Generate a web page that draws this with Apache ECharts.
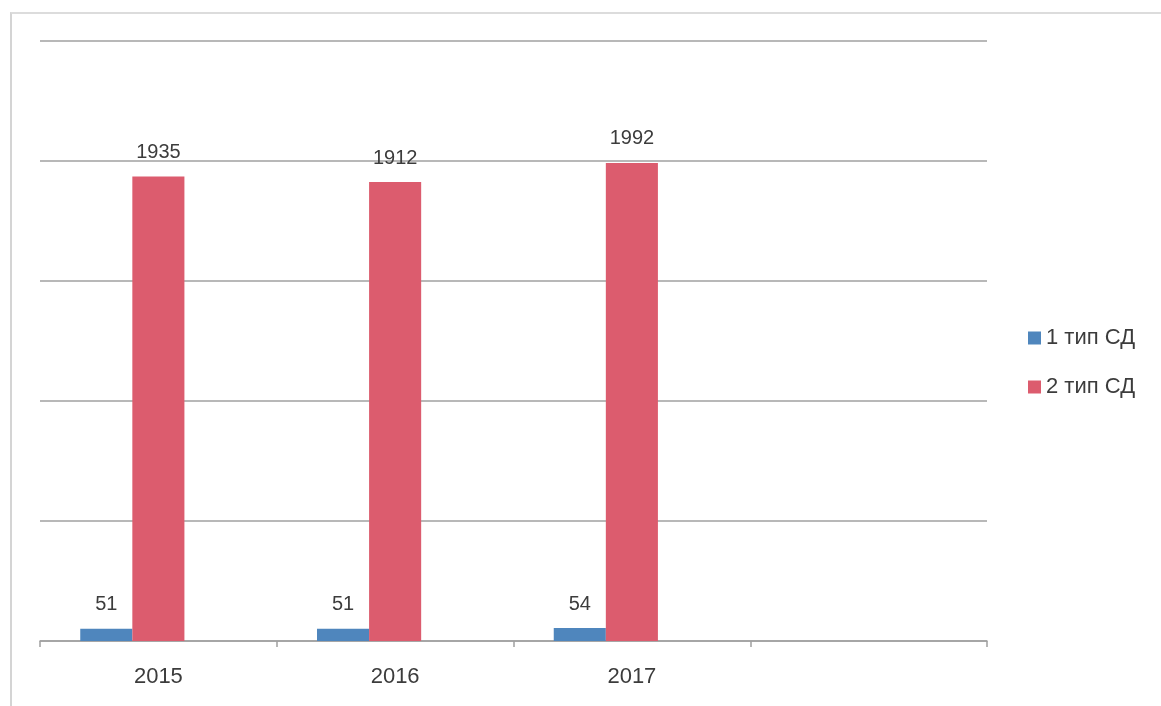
<!DOCTYPE html>
<html>
<head>
<meta charset="utf-8">
<script src="https://cdn.jsdelivr.net/npm/echarts@6/dist/echarts.min.js"></script>
<style>
html,body{margin:0;padding:0;background:#fff;}
#frame{position:absolute;left:10px;top:12px;width:1160px;height:700px;border-left:2px solid #d4d4d4;border-top:2px solid #dcdcdc;box-sizing:border-box;}
#chart{position:absolute;left:0;top:0;width:1161px;height:706px;}
</style>
</head>
<body>
<div id="frame"></div>
<div id="chart"></div>
<script>
const categories = ['2015', '2016', '2017', ''];
const seriesNames = ['1 тип СД', '2 тип СД'];
const type1 = [51, 51, 54, null];
const type2 = [1935, 1912, 1992, null];
const emptySeries = [null, null, null, null];
const yMin = 0, yMax = 2500, yStep = 500;

const labelStyle = {
  show: true, position: 'top', distance: 14,
  fontFamily: 'Liberation Sans', fontSize: 20, color: '#3c3c3c'
};

const chart = echarts.init(document.getElementById('chart'));
chart.setOption({
  animation: false,
  backgroundColor: 'transparent',
  grid: { left: 40, right: 174, top: 41, bottom: 65 },
  legend: {
    data: seriesNames,
    orient: 'vertical',
    left: 1023, top: 322,
    itemWidth: 13, itemHeight: 13, itemGap: 27,
    icon: 'rect',
    textStyle: { fontFamily: 'Liberation Sans', fontSize: 22, color: '#3c3c3c' }
  },
  xAxis: {
    type: 'category',
    data: categories,
    axisLine: { lineStyle: { color: '#a0a0a0', width: 1.5 } },
    axisTick: { show: true, length: 6, lineStyle: { color: '#a0a0a0', width: 1.5 } },
    axisLabel: { margin: 25, fontFamily: 'Liberation Sans', fontSize: 22, color: '#3c3c3c' }
  },
  yAxis: {
    type: 'value', min: yMin, max: yMax, interval: yStep,
    axisLine: { show: false }, axisTick: { show: false },
    axisLabel: { show: false },
    splitLine: { lineStyle: { color: '#a0a0a0', width: 1.5 } }
  },
  series: [
    { name: seriesNames[0], type: 'bar', data: type1, itemStyle: { color: '#4f86bd' },
      barGap: '0%', barCategoryGap: '34%', label: labelStyle },
    { name: seriesNames[1], type: 'bar', data: type2, itemStyle: { color: '#dc5c6e' },
      label: labelStyle },
    { name: 'empty', type: 'bar', data: emptySeries }
  ]
});
</script>
</body>
</html>
